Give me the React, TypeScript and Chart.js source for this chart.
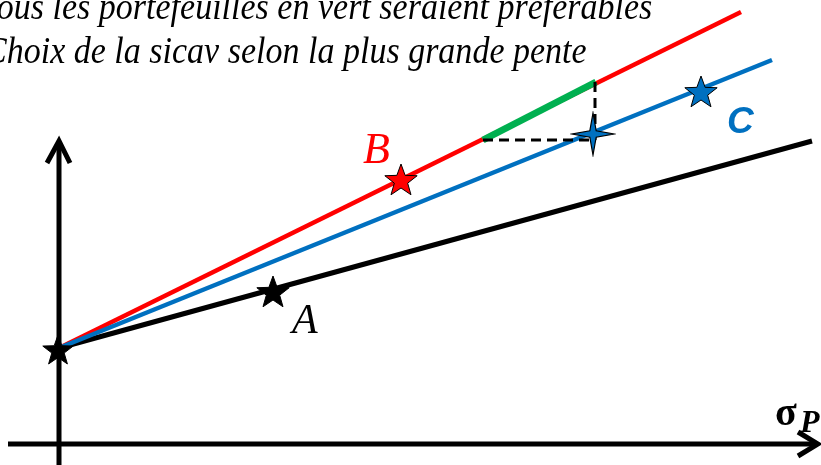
import { useEffect, useRef } from "react";
import { Chart, registerables } from "chart.js";

Chart.register(...registerables);

// Axes: x = portfolio risk (σP), y = expected return, arbitrary units
const X_MIN = -0.59;
const X_MAX = 7.62;
const Y_MIN = -0.21;
const Y_MAX = 4.44;

// Risk-free asset (start of every capital line)
const riskFreeSigma = [-0.01];
const riskFreeReturn = [0.93];
const lineStart = [0, 0.96];

// Funds (sicav) A, B, C
const fundNames = ["A", "B", "C"];
const fundSigma = [2.14, 3.42, 6.42];
const fundReturn = [1.51, 2.63, 3.51];
const fundColors = ["#000000", "#ff0000", "#0070c0"];

// Far end of each capital line (through A, B, C)
const lineEndSigma = [7.53, 6.82, 7.13];
const lineEndReturn = [3.03, 4.32, 3.84];
const lineWidths = [5, 4.5, 4.5];

// Dominating portfolios on line B (green) and the comparison point on line C
const greenSigma = [4.24, 5.37];
const greenReturn = [3.04, 3.62];
const compareSigma = [5.34];
const compareReturn = [3.10];
const dashSigma = [4.24, 5.36, 5.36];
const dashReturn = [3.04, 3.04, 3.62];

// Axis lines with their arrow heads
const yAxisSigma = [0, 0];
const yAxisReturn = [-0.21, 3.01];
const yArrowSigma = [-0.12, 0, 0.11];
const yArrowReturn = [2.81, 3.03, 2.81];
const xAxisSigma = [-0.51, 7.57];
const xAxisReturn = [0, 0];
const xArrowSigma = [7.39, 7.59, 7.39];
const xArrowReturn = [0.12, 0, -0.12];

// Label anchors (left, baseline)
const labelSigma = [2.33, 3.04, 6.68];
const labelReturn = [1.11, 2.81, 3.11];
const axisLabelSigma = [7.16, 7.41];
const axisLabelReturn = [0.19, 0.12];

const titleLines = [
  "Tous les portefeuilles en vert seraient préférables",
  "Choix de la sicav selon la plus grande pente",
];

function starCanvas(points: number, outer: number, inner: number, fill: string, stroke: string, lw: number) {
  const size = Math.ceil(2 * (outer + 2));
  const c = document.createElement("canvas");
  c.width = size;
  c.height = size;
  const ctx = c.getContext("2d")!;
  ctx.translate(size / 2, size / 2);
  ctx.beginPath();
  for (let i = 0; i < points * 2; i++) {
    const r = i % 2 === 0 ? outer : inner;
    const a = -Math.PI / 2 + (i * Math.PI) / points;
    const px = r * Math.cos(a);
    const py = r * Math.sin(a);
    if (i === 0) ctx.moveTo(px, py);
    else ctx.lineTo(px, py);
  }
  ctx.closePath();
  ctx.fillStyle = fill;
  ctx.fill();
  ctx.lineWidth = lw;
  ctx.strokeStyle = stroke;
  ctx.lineJoin = "miter";
  ctx.stroke();
  return c;
}

function pts(xs: number[], ys: number[]) {
  return xs.map((x, i) => ({ x, y: ys[i] }));
}

export default function App() {
  const ref = useRef<HTMLCanvasElement | null>(null);

  useEffect(() => {
    if (!ref.current) return;

    const fundStars = fundColors.map((col) => starCanvas(5, 17, 7, col, "#000000", 1));
    const rfStar = starCanvas(5, 16, 6.5, "#000000", "#000000", 1);
    const compareStar = starCanvas(4, 21, 4.5, "#0070c0", "#000000", 1.2);

    const line = (data: { x: number; y: number }[], color: string, width: number, order: number, extra: any = {}) => ({
      type: "scatter" as const,
      data,
      showLine: true,
      borderColor: color,
      backgroundColor: color,
      borderWidth: width,
      pointRadius: 0,
      pointHoverRadius: 0,
      borderCapStyle: "butt",
      borderJoinStyle: "miter",
      order,
      ...extra,
    });

    const capitalLines = fundNames.map((_, i) =>
      line(
        [
          { x: lineStart[0], y: lineStart[1] },
          { x: lineEndSigma[i], y: lineEndReturn[i] },
        ],
        fundColors[i],
        lineWidths[i],
        6 - i
      )
    );

    const textPlugin = {
      id: "diagramText",
      afterDatasetsDraw(chart: any) {
        const { ctx, scales } = chart;
        const xs = scales.x;
        const ys = scales.y;
        ctx.save();
        ctx.textBaseline = "alphabetic";
        ctx.textAlign = "left";

        const fonts = [
          'italic 42px "Liberation Serif"',
          'italic 44px "Liberation Serif"',
          'italic bold 37px "Liberation Sans"',
        ];
        fundNames.forEach((name, i) => {
          ctx.font = fonts[i];
          ctx.fillStyle = fundColors[i];
          ctx.fillText(name, xs.getPixelForValue(labelSigma[i]), ys.getPixelForValue(labelReturn[i]));
        });

        ctx.fillStyle = "#000000";
        ctx.font = 'bold 40px "Liberation Serif"';
        ctx.fillText("σ", xs.getPixelForValue(axisLabelSigma[0]), ys.getPixelForValue(axisLabelReturn[0]));
        ctx.font = 'italic bold 32px "Liberation Serif"';
        ctx.fillText("P", xs.getPixelForValue(axisLabelSigma[1]), ys.getPixelForValue(axisLabelReturn[1]));

        // slightly condensed italic heading
        ctx.font = 'italic 38px "Liberation Serif"';
        ctx.save();
        ctx.scale(0.895, 1);
        ctx.fillText(titleLines[0], -19 / 0.895, 19);
        ctx.fillText(titleLines[1], -16 / 0.895, 63);
        ctx.restore();
        ctx.restore();
      },
    };

    const chart = new Chart(ref.current, {
      type: "scatter",
      data: {
        datasets: [
          {
            type: "scatter",
            data: pts(fundSigma, fundReturn),
            pointStyle: fundStars as any,
            pointRadius: 17,
            order: 0,
          },
          {
            type: "scatter",
            data: pts(compareSigma, compareReturn),
            pointStyle: compareStar as any,
            pointRadius: 21,
            order: 0,
          },
          {
            type: "scatter",
            data: pts(riskFreeSigma, riskFreeReturn),
            pointStyle: rfStar as any,
            pointRadius: 16,
            order: 0,
          },
          line(pts(dashSigma, dashReturn), "#000000", 3, 1, { borderDash: [10, 6] }),
          line(pts(greenSigma, greenReturn), "#00b050", 7, 2),
          ...capitalLines,
          line(pts(yAxisSigma, yAxisReturn), "#000000", 5, 10),
          line(pts(yArrowSigma, yArrowReturn), "#000000", 5, 10),
          line(pts(xAxisSigma, xAxisReturn), "#000000", 5, 10),
          line(pts(xArrowSigma, xArrowReturn), "#000000", 5, 10),
        ] as any,
      },
      options: {
        animation: false,
        responsive: false,
        maintainAspectRatio: false,
        events: [],
        layout: { padding: 0, autoPadding: false },
        plugins: {
          legend: { display: false },
          tooltip: { enabled: false },
          title: { display: false },
        },
        scales: {
          x: { type: "linear", min: X_MIN, max: X_MAX, display: false },
          y: { type: "linear", min: Y_MIN, max: Y_MAX, display: false },
        },
      },
      plugins: [textPlugin],
    });

    return () => chart.destroy();
  }, []);

  return (
    <div style={{ position: "fixed", left: 0, top: 0, width: 821, height: 465, background: "#ffffff" }}>
      <canvas ref={ref} width={821} height={465} />
    </div>
  );
}
